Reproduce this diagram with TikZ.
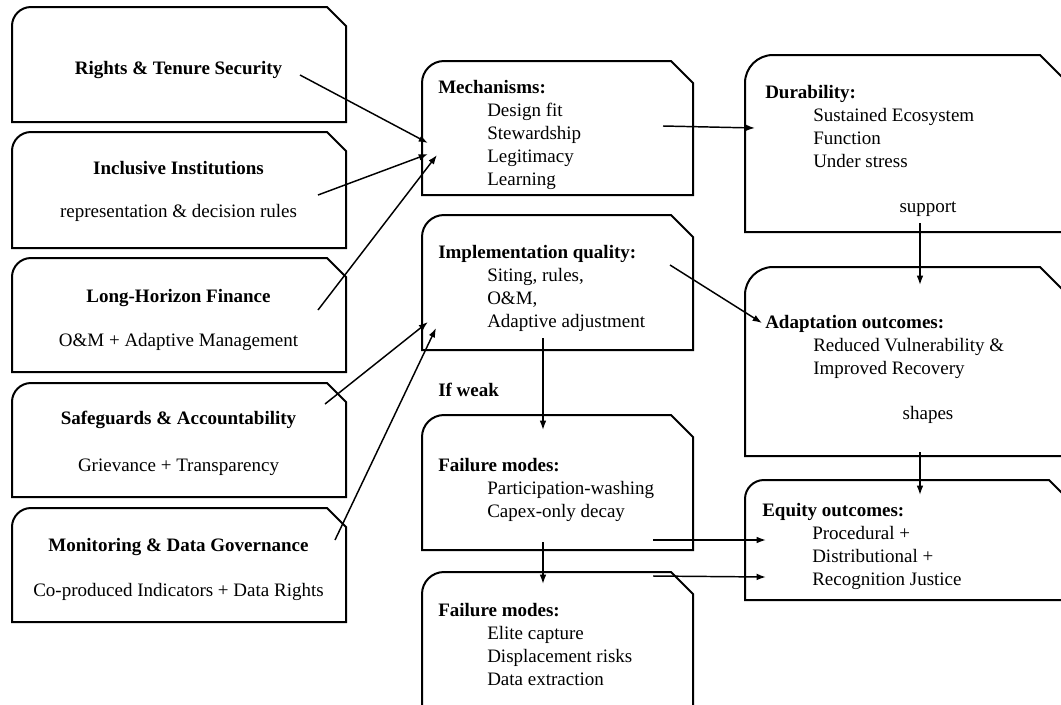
\documentclass[tikz,border=0pt]{standalone}
\usepackage{fontspec}
\setmainfont{Liberation Serif}
\usetikzlibrary{arrows.meta}
% #1 name, #2 x1, #3 y1, #4 x2, #5 y2, #6 corner size
\newcommand{\snipbox}[6]{%
  \draw[boxline] (#2,#5) -- (#2,#3+#6)
     .. controls (#2,#3+0.448*#6) and (#2+0.448*#6,#3) .. (#2+#6,#3)
     -- (#4-#6,#3) -- (#4,#3+#6) -- (#4,#5) -- cycle;
  \coordinate (#1) at ({(#2+#4)/2},{(#3+#5)/2});%
}
\begin{document}
\begin{tikzpicture}[x=0.75pt,y=-0.75pt,
  boxline/.style={line width=1.5pt, line join=miter},
  arr/.style={line width=1.1pt, -{Latex[length=7pt,width=5pt]}},
  base/.style={inner sep=0pt, font=\fontsize{14.25}{17.25}\selectfont},
  txt/.style={base, align=left, anchor=north west},
  ctr/.style={base, text height=0.9em, text depth=0.25em},
  ttl/.style={ctr, font=\fontsize{14.25}{17.25}\selectfont\bfseries}]
\useasboundingbox (0,0) rectangle (1061,704);
\clip (0,0) rectangle (1061,704);
\fill[white] (0,0) rectangle (1061,704);

% ---------- left column ----------
\snipbox{rights}{12}{7}{346}{122}{19}
\snipbox{incl}{12}{132}{346}{248}{19}
\snipbox{long}{12}{258}{346}{372}{19}
\snipbox{safe}{12}{383}{346}{497}{19}
\snipbox{mon}{12}{508}{346}{622}{19}

\node[ttl] (rightsT) at (178.5,70) {Rights \& Tenure Security};
\node[ttl] (inclT) at (178.5,170) {Inclusive Institutions};
\node[ctr] (inclS) at (178.5,213) {representation \& decision rules};
\node[ttl] (longT) at (178.5,298) {Long-Horizon Finance};
\node[ctr] (longS) at (178.5,342) {O\&M + Adaptive Management};
\node[ttl] (safeT) at (178.5,420) {Safeguards \& Accountability};
\node[ctr] (safeS) at (178.5,467) {Grievance + Transparency};
\node[ttl] (monT) at (178.5,547) {Monitoring \& Data Governance};
\node[ctr] (monS) at (178.5,592) {Co-produced Indicators + Data Rights};

% ---------- middle column ----------
\snipbox{mech}{422}{61}{693}{195}{22}
\snipbox{impl}{422}{215}{693}{350}{22}
\snipbox{failA}{422}{415}{693}{550}{22}
\snipbox{failB}{422}{572}{693}{707}{22}

\node[txt] (mechT) at (438,80) {\textbf{Mechanisms:}\\
  \hspace*{36.75pt}Design fit\\ \hspace*{36.75pt}Stewardship\\
  \hspace*{36.75pt}Legitimacy\\ \hspace*{36.75pt}Learning};
\node[txt] (implT) at (438,245) {\textbf{Implementation quality:}\\
  \hspace*{36.75pt}Siting, rules,\\ \hspace*{36.75pt}O\&M,\\
  \hspace*{36.75pt}Adaptive adjustment};
\node[ttl, anchor=west] (weak) at (438,392) {If weak};
\node[txt] (failAT) at (438,458) {\textbf{Failure modes:}\\
  \hspace*{36.75pt}Participation-washing\\ \hspace*{36.75pt}Capex-only decay};
\node[txt] (failBT) at (438,603) {\textbf{Failure modes:}\\
  \hspace*{36.75pt}Elite capture\\ \hspace*{36.75pt}Displacement risks\\
  \hspace*{36.75pt}Data extraction};

% ---------- right column ----------
\snipbox{dur}{745}{55}{1068}{232}{28}
\snipbox{adapt}{745}{267}{1068}{456}{28}
\snipbox{equity}{745}{480}{1068}{600}{19}

\node[txt] (durT) at (765,85) {\textbf{Durability:}\\
  \hspace*{36pt}Sustained Ecosystem\\ \hspace*{36pt}Function\\
  \hspace*{36pt}Under stress};
\node[ctr] (support) at (928,208) {support};
\node[txt] (adaptT) at (765,315) {\textbf{Adaptation outcomes:}\\
  \hspace*{36pt}Reduced Vulnerability \&\\ \hspace*{36pt}Improved Recovery};
\node[ctr] (shapes) at (928,415) {shapes};
\node[txt] (eqT) at (762,503) {\textbf{Equity outcomes:}\\
  \hspace*{37.5pt}Procedural +\\ \hspace*{37.5pt}Distributional +\\
  \hspace*{37.5pt}Recognition Justice};

% ---------- connector end points ----------
\coordinate (rights-out) at (300,75);   \coordinate (mech-in1) at (428,143);
\coordinate (incl-out) at (318,195);    \coordinate (mech-in2) at (428,154);
\coordinate (long-out) at (318,310);    \coordinate (mech-in3) at (437,155);
\coordinate (safe-out) at (325,404);    \coordinate (impl-in1) at (428,322);
\coordinate (mon-out) at (335,540);     \coordinate (impl-in2) at (436,328);
\coordinate (mech-out) at (663,126);    \coordinate (dur-in) at (755,128);
\coordinate (impl-out) at (670,265);    \coordinate (adapt-in) at (762,323);
\coordinate (impl-down) at (543,338);   \coordinate (failA-in) at (543,430);
\coordinate (failA-down) at (543,542);  \coordinate (failB-in) at (543,584);
\coordinate (failA-out) at (653,540);   \coordinate (eq-in1) at (766,540);
\coordinate (failB-out) at (653,576);   \coordinate (eq-in2) at (766,577);
\coordinate (dur-down) at (920,223);    \coordinate (adapt-top) at (920,285);
\coordinate (adapt-down) at (920,452);  \coordinate (eq-top) at (920,495);

% ---------- connectors ----------
\draw[arr] (rights-out) -- (mech-in1);
\draw[arr] (incl-out) -- (mech-in2);
\draw[arr] (long-out) -- (mech-in3);
\draw[arr] (safe-out) -- (impl-in1);
\draw[arr] (mon-out) -- (impl-in2);
\draw[arr] (mech-out) -- (dur-in);
\draw[arr] (impl-out) -- (adapt-in);
\draw[arr] (impl-down) -- (failA-in);
\draw[arr] (failA-down) -- (failB-in);
\draw[arr] (failA-out) -- (eq-in1);
\draw[arr] (failB-out) -- (eq-in2);
\draw[arr] (dur-down) -- (adapt-top);
\draw[arr] (adapt-down) -- (eq-top);
\end{tikzpicture}
\end{document}
